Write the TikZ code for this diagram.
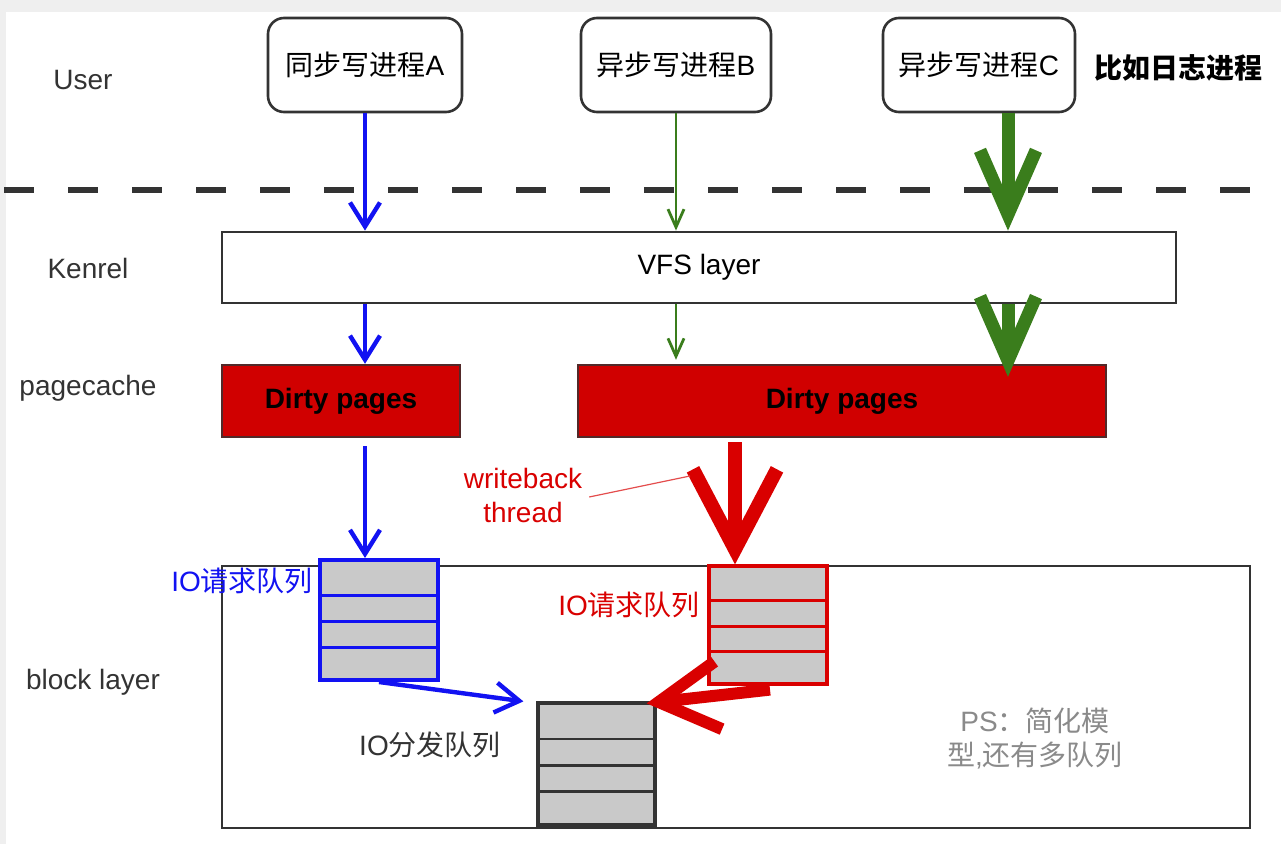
\documentclass[tikz,border=0pt]{standalone}
\usepackage{fontspec}
\setmainfont{Liberation Sans}
\newfontfamily\cjk{Noto Sans CJK SC}
\usetikzlibrary{arrows.meta,positioning,calc}
\definecolor{PageGray}{HTML}{EFEFEF}
\definecolor{LineDark}{HTML}{333333}
\definecolor{IOBlue}{HTML}{1212F2}
\definecolor{IORed}{HTML}{D90000}
\definecolor{DirtyRed}{HTML}{D00000}
\definecolor{SyncGreen}{HTML}{3A7D1C}
\definecolor{SlotGray}{HTML}{C9C9C9}
\definecolor{NoteGray}{HTML}{8A8A8A}
\tikzset{
  lbl/.style={font=\fontsize{14}{17}\selectfont, text=LineDark},
  procbox/.style={rounded corners=8pt, draw=LineDark, fill=white, line width=1.3pt, minimum height=47pt, inner sep=2pt, font=\fontsize{14}{17}\selectfont},
  layerbox/.style={draw=LineDark, fill=white, line width=1.4pt},
  dirtybox/.style={draw=LineDark!80!DirtyRed, fill=DirtyRed, line width=1.2pt, minimum height=36pt, font=\bfseries\fontsize{14}{17}\selectfont},
  queue/.style={fill=SlotGray, line width=1.6pt, minimum width=59pt, minimum height=60pt},
  bluearrow/.style={-{Straight Barb[length=12pt, width=15pt]}, line width=2.2pt, draw=IOBlue},
  greenthin/.style={-{Straight Barb[length=9pt, width=8pt]}, line width=1.4pt, draw=SyncGreen},
  greenthick/.style={-{Straight Barb[length=32pt, width=28pt]}, line width=6.5pt, draw=SyncGreen},
  redthick/.style={-{Straight Barb[length=40pt, width=42pt]}, line width=7pt, draw=IORed},
  redthin/.style={-{Straight Barb[length=30pt, width=34pt]}, line width=6pt, draw=IORed}
}
\begin{document}
\begin{tikzpicture}[x=0.5pt, y=-0.5pt]
\fill[PageGray] (0,0) rectangle (1281,844);
\fill[white] (6,12) rectangle (1281,844);
\useasboundingbox (0,0) rectangle (1281,844);

% layer names
\node[lbl] (user) at (83,80) {User};
\node[lbl] (kernel) at (88,268) {Kenrel};
\node[lbl] (pagecache) at (88,388) {pagecache};
\node[lbl] (blocklbl) at (93,682) {block layer};

% user processes
\node[procbox, minimum width=97pt] (procA) at (365,65) {{\cjk 同步写进程}A};
\node[procbox, minimum width=95pt] (procB) at (676,65) {{\cjk 异步写进程}B};
\node[procbox, minimum width=96pt] (procC) at (979,65) {{\cjk 异步写进程}C};
\node[lbl, font=\cjk\bfseries\fontsize{14}{17}\selectfont, text=black] (note) at (1178,68) {比如日志进程};

\draw[LineDark, line width=3pt, dash pattern=on 15pt off 17pt] (4,190) -- (1281,190);

% kernel and page cache
\node[layerbox, minimum width=477pt, minimum height=35.5pt, font=\fontsize{14}{17}\selectfont] (vfs) at (699,267.5) {VFS layer};
\node[dirtybox, minimum width=119pt] (dirtyA) at (341,401) {Dirty pages};
\node[dirtybox, minimum width=264pt] (dirtyB) at (842,401) {Dirty pages};

% block layer
\node[layerbox, minimum width=514pt, minimum height=131pt] (block) at (736,697) {};
\node[queue, draw=IOBlue, line width=2pt] (qA) at (379,620) {};
\node[queue, draw=IORed, minimum height=59pt] (qB) at (768,625) {};
\node[queue, draw=LineDark, minimum width=58.5pt, minimum height=61pt] (qD) at (596.5,764) {};
\foreach \q/\c in {qA/IOBlue, qB/IORed, qD/LineDark}
  \foreach \f in {0.3,0.51,0.72}
    \draw[\c, line width=1.4pt] ($(\q.north west)!\f!(\q.south west)$) -- ($(\q.north east)!\f!(\q.south east)$);

\node[lbl, text=IOBlue, anchor=east] (qAlbl) at (320,581) {IO{\cjk 请求队列}};
\node[lbl, text=IORed, anchor=east] (qBlbl) at (707,605) {IO{\cjk 请求队列}};
\node[lbl, text=LineDark] (qDlbl) at (430,745) {IO{\cjk 分发队列}};
\node[lbl, text=NoteGray, align=center] (ps) at (1035,738) {PS{\cjk ：简化模}\\{\cjk 型},{\cjk 还有多队列}};
\node[lbl, text=IORed, align=center] (wb) at (523,495) {writeback\\thread};

% process A path
\draw[bluearrow] (procA.south) -- (procA.south |- vfs.north);
\draw[bluearrow] (vfs.south -| procA.south) -- (procA.south |- dirtyA.north);
\draw[bluearrow] ($(dirtyA.south -| procA.south)+(0,8)$) -- (procA.south |- qA.north);
\draw[bluearrow] (qA.south) -- ($(qD.north west)+(-13,0)$);

% process B path
\draw[greenthin] (procB.south) -- (procB.south |- vfs.north);
\draw[greenthin] (vfs.south -| procB.south) -- ($(procB.south |- dirtyB.north)+(0,-4)$);

% process C path
\coordinate (lineC) at ([xshift=14.5pt]procC.south);
\draw[greenthick] (lineC) -- (lineC |- vfs.north);
\draw[greenthick] (lineC |- vfs.south) -- ($(lineC |- dirtyB.north)+(0,13)$);

% writeback
\coordinate (wbtip) at ([xshift=-16.5pt]qB.north);
\coordinate (wbend) at (690,476);
\draw[redthick] ($(wbtip |- dirtyB.south)+(0,4)$) -- (wbtip);
\draw[IORed!70, line width=0.6pt] ($(wb.east)+(0,2)$) -- (wbend);
\draw[redthin] ($(qB.south)+(2,4)$) -- ($(qD.north east)+(-10,2)$);
\end{tikzpicture}
\end{document}
